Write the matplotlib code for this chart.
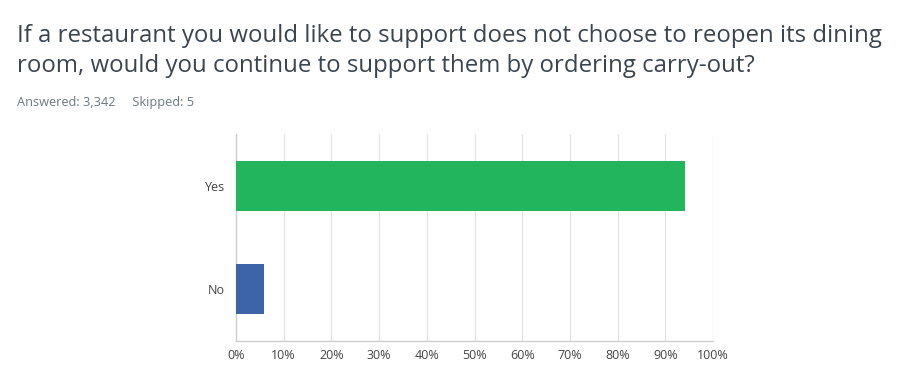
import matplotlib
matplotlib.use('Agg')
from matplotlib import pyplot as plt
from matplotlib.ticker import MultipleLocator, PercentFormatter

title = ('If a restaurant you would like to support does not choose to reopen its dining\n'
         'room, would you continue to support them by ordering carry-out?')
subtitle = 'Answered: 3,342     Skipped: 5'

answers = ['No', 'Yes']
percents = [5.9, 94.1]
bar_colors = ['#3E64A8', '#22B55E']

plt.rcParams['font.family'] = ['Open Sans', 'DejaVu Sans']

fig = plt.figure(figsize=(8.97, 3.74), dpi=100)
ax = fig.add_axes([0.263, 0.088, 0.532, 0.554])

ax.barh(answers, percents, height=0.48, color=bar_colors, zorder=3)
ax.set_xlim(0, 100)
ax.set_ylim(-0.5, 1.5)
ax.xaxis.set_major_locator(MultipleLocator(10))
ax.xaxis.set_major_formatter(PercentFormatter(decimals=0))
ax.grid(axis='x', color='#e3e3e3', linewidth=0.9, zorder=0)
ax.tick_params(axis='both', length=0, labelsize=9, colors='#444444')
ax.tick_params(axis='x', pad=6)
ax.tick_params(axis='y', pad=8)
for side in ['top', 'right']:
    ax.spines[side].set_visible(False)
for side in ['left', 'bottom']:
    ax.spines[side].set_color('#cfcfcf')
    ax.spines[side].set_linewidth(1)

fig.text(0.019, 0.935, title, fontsize=17.3, color='#3b4550', va='top',
         linespacing=1.3)
fig.text(0.019, 0.727, subtitle, fontsize=9.2, color='#6b787f', va='center')

fig.savefig('out.png', dpi=100)
